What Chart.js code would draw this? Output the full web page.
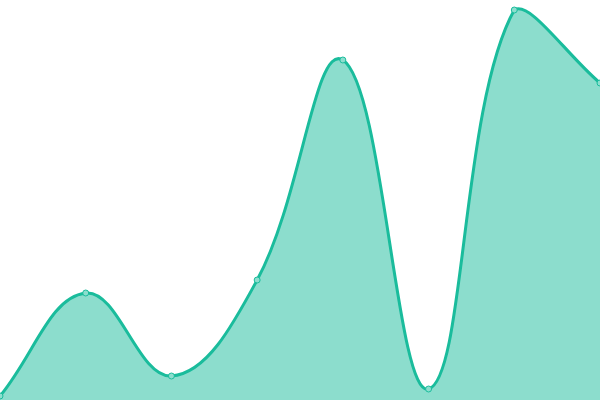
<!DOCTYPE html>
<html>
<head>
<meta charset="utf-8">
<script src="https://cdn.jsdelivr.net/npm/chart.js@4"></script>
<style>
  html, body { margin: 0; padding: 0; background: #fff; }
  #wrap { width: 600px; height: 400px; }
</style>
</head>
<body>
<div id="wrap"><canvas id="chart"></canvas></div>
<script>
  const labels = ['1', '2', '3', '4', '5', '6', '7', '8'];
  const values = [4, 107, 24, 120, 340, 11, 390, 317];
  const yMin = 0;
  const yMax = 400;

  const lineColor = '#1abc9c';
  const fillColor = 'rgba(26, 188, 156, 0.5)';

  new Chart(document.getElementById('chart'), {
    type: 'line',
    data: {
      labels,
      datasets: [{
        data: values,
        borderColor: lineColor,
        backgroundColor: fillColor,
        borderWidth: 3,
        fill: true,
        tension: 0.4,
        pointRadius: 3,
        pointBorderWidth: 1,
        pointBackgroundColor: 'rgba(140, 222, 206, 1)',
        pointBorderColor: lineColor
      }]
    },
    options: {
      responsive: true,
      maintainAspectRatio: false,
      animation: false,
      layout: { padding: 0, autoPadding: false },
      plugins: {
        legend: { display: false },
        tooltip: { enabled: false }
      },
      scales: {
        x: { display: false },
        y: { display: false, min: yMin, max: yMax }
      }
    }
  });
</script>
</body>
</html>
